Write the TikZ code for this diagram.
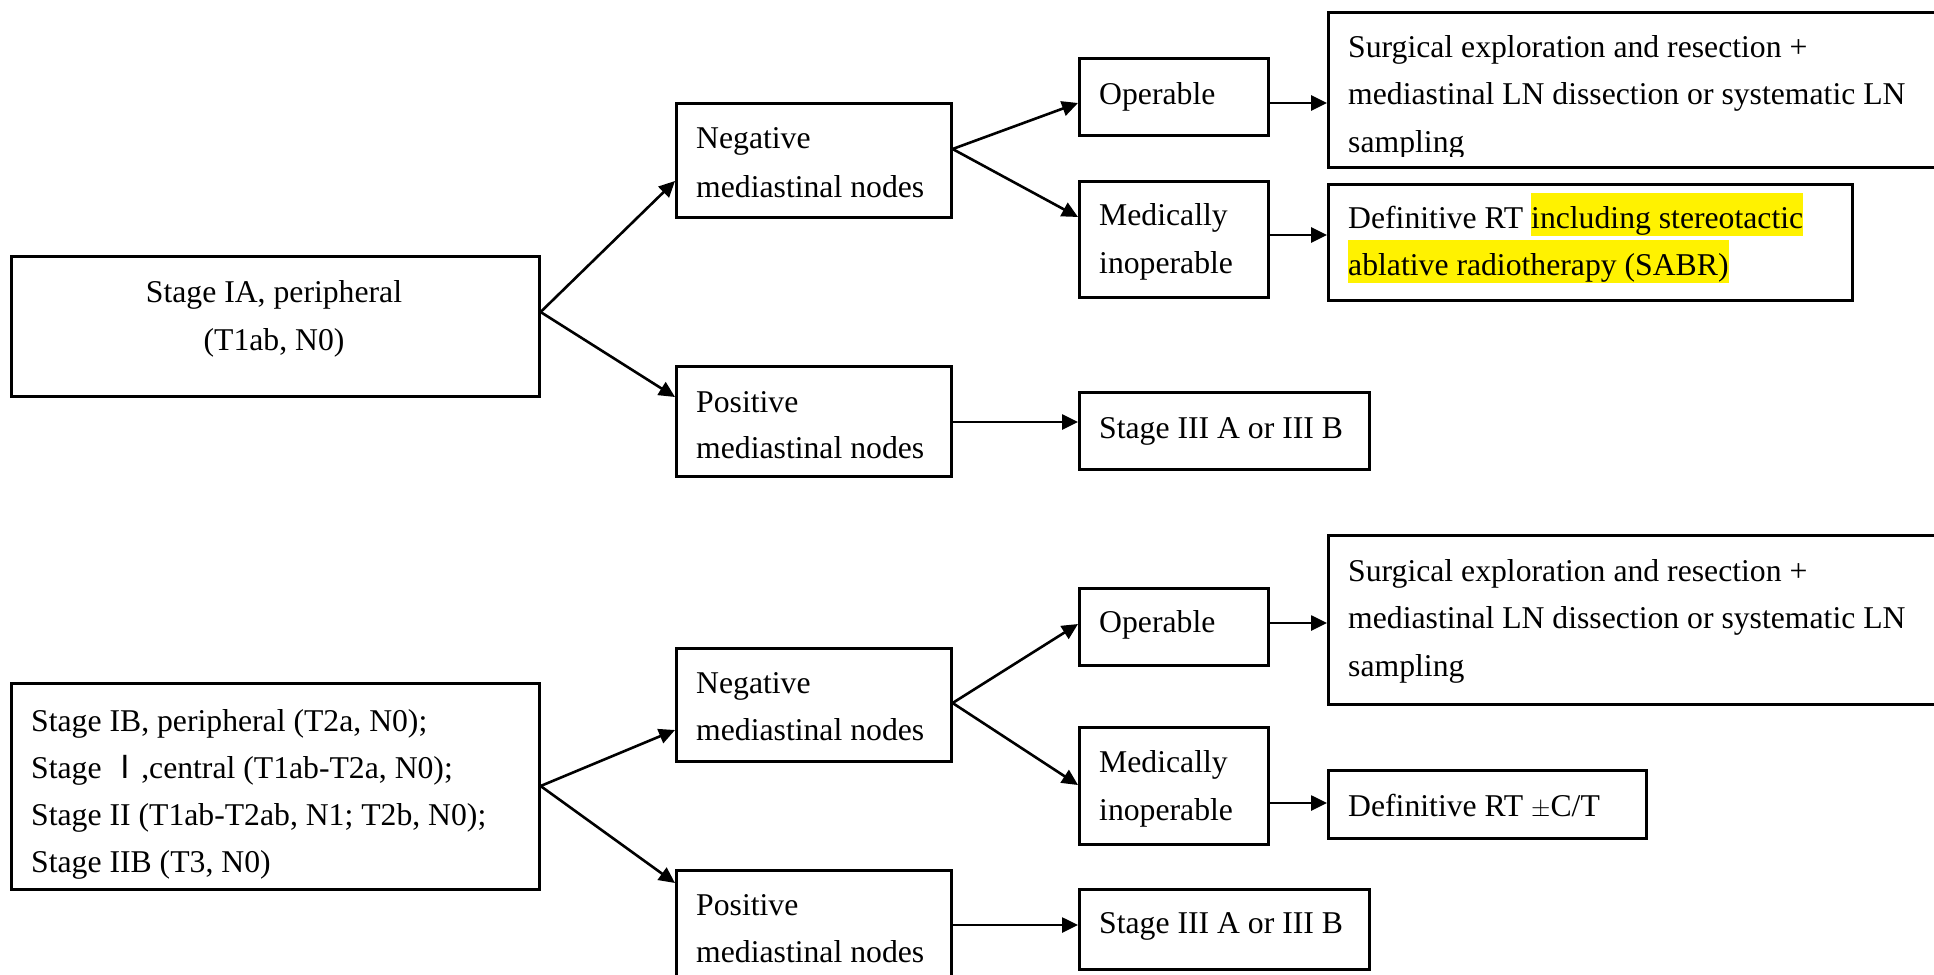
\documentclass[tikz,border=0pt]{standalone}
\usepackage{fontspec}
\setmainfont{Liberation Serif}
\newfontfamily\cjk{Noto Sans CJK SC}
\usetikzlibrary{arrows.meta,calc}
\newcommand\hlite[1]{{\setlength{\fboxsep}{0pt}\colorbox{yellow}{\rule[-8pt]{0pt}{43pt}#1}}}
\begin{document}
\begin{tikzpicture}[x=1pt,y=-1pt,
  box/.style={draw,line width=2.6pt,rectangle,inner sep=0pt,anchor=north west},
  txt/.style={anchor=base west,inner sep=0pt,font=\fontsize{31.7}{47.5}\selectfont},
  ctxt/.style={anchor=base,inner sep=0pt,font=\fontsize{31.7}{47.5}\selectfont},
  arr/.style={line width=2.6pt,-{Triangle[length=16pt,width=15pt]}}]
\useasboundingbox (0,0) rectangle (1934,974);
% ---------- top boxes ----------
\node[box,minimum width=528,minimum height=140] (ia) at (10,255) {};
\node[box,minimum width=275,minimum height=114] (neg1) at (675,102) {};
\node[box,minimum width=275,minimum height=110] (pos1) at (675,365) {};
\node[box,minimum width=189,minimum height=77] (op1) at (1078,57) {};
\node[box,minimum width=189,minimum height=116] (med1) at (1078,180) {};
\node[box,minimum width=290,minimum height=77] (s3a) at (1078,391) {};
\node[box,minimum width=640,minimum height=155] (surg1) at (1327,11) {};
\node[box,minimum width=524,minimum height=116] (def1) at (1327,183) {};
% ---------- bottom boxes ----------
\node[box,minimum width=528,minimum height=206] (ib) at (10,682) {};
\node[box,minimum width=275,minimum height=113] (neg2) at (675,647) {};
\node[box,minimum width=275,minimum height=130] (pos2) at (675,869) {};
\node[box,minimum width=189,minimum height=77] (op2) at (1078,587) {};
\node[box,minimum width=189,minimum height=117] (med2) at (1078,726) {};
\node[box,minimum width=290,minimum height=80] (s3b) at (1078,888) {};
\node[box,minimum width=640,minimum height=169] (surg2) at (1327,534) {};
\node[box,minimum width=318,minimum height=68] (def2) at (1327,769) {};
% ---------- texts ----------
\node[ctxt] (iaA) at (274,302) {Stage IA, peripheral};
\node[ctxt] (iaB) at (274,350) {(T1ab, N0)};
\node[txt] (neg1A) at (696,148) {Negative};
\node[txt] (neg1B) at (696,197) {mediastinal nodes};
\node[txt] (pos1A) at (696,412) {Positive};
\node[txt] (pos1B) at (696,458) {mediastinal nodes};
\node[txt] (op1A) at (1099,104) {Operable};
\node[txt] (med1A) at (1099,225) {Medically};
\node[txt] (med1B) at (1099,273) {inoperable};
\node[txt] (s3aA) at (1099,438) {Stage III A or III B};
\begin{scope}
\clip (1320,0) rectangle (1934,156);
\node[txt] (surg1A) at (1348,57) {Surgical exploration and resection +};
\node[txt] (surg1B) at (1348,104) {mediastinal LN dissection or systematic LN};
\node[txt] (surg1C) at (1348,152) {sampling};
\end{scope}
\node[txt] (def1A) at (1348,228) {Definitive RT \hlite{including stereotactic}};
\node[txt] (def1B) at (1348,275) {\hlite{ablative radiotherapy (SABR)}};
\node[txt] (ibA) at (31,731) {Stage IB, peripheral (T2a, N0);};
\node[txt] (ibB) at (31,778) {Stage {\cjk Ⅰ},central (T1ab-T2a, N0);};
\node[txt] (ibC) at (31,825) {Stage II (T1ab-T2ab, N1; T2b, N0);};
\node[txt] (ibD) at (31,872) {Stage IIB (T3, N0)};
\node[txt] (neg2A) at (696,693) {Negative};
\node[txt] (neg2B) at (696,740) {mediastinal nodes};
\node[txt] (pos2A) at (696,915) {Positive};
\node[txt] (pos2B) at (696,962) {mediastinal nodes};
\node[txt] (op2A) at (1099,632) {Operable};
\node[txt] (med2A) at (1099,772) {Medically};
\node[txt] (med2B) at (1099,820) {inoperable};
\node[txt] (s3bA) at (1099,933) {Stage III A or III B};
\node[txt] (surg2A) at (1348,581) {Surgical exploration and resection +};
\node[txt] (surg2B) at (1348,628) {mediastinal LN dissection or systematic LN};
\node[txt] (surg2C) at (1348,676) {sampling};
\node[txt] (def2A) at (1348,816) {Definitive RT $\pm$C/T};
% ---------- arrows top ----------
\draw[arr] ($(ia.north east)+(0,57)$) -- ($(neg1.north west)+(0,79)$);
\draw[arr] ($(ia.north east)+(0,57)$) -- ($(pos1.north west)+(0,32)$);
\draw[arr] ($(neg1.north east)+(0,47)$) -- ($(op1.north west)+(0,46)$);
\draw[arr] ($(neg1.north east)+(0,47)$) -- ($(med1.north west)+(0,37)$);
\draw[arr] ($(op1.north east)+(0,46)$) -- ($(surg1.north west)+(0,92)$);
\draw[arr] ($(med1.north east)+(0,55)$) -- ($(def1.north west)+(0,52)$);
\draw[arr] ($(pos1.north east)+(0,57)$) -- ($(s3a.north west)+(0,31)$);
% ---------- arrows bottom ----------
\draw[arr] ($(ib.north east)+(0,104)$) -- ($(neg2.north west)+(0,83)$);
\draw[arr] ($(ib.north east)+(0,104)$) -- ($(pos2.north west)+(0,14)$);
\draw[arr] ($(neg2.north east)+(0,56)$) -- ($(op2.north west)+(0,37)$);
\draw[arr] ($(neg2.north east)+(0,56)$) -- ($(med2.north west)+(0,59)$);
\draw[arr] ($(op2.north east)+(0,36)$) -- ($(surg2.north west)+(0,89)$);
\draw[arr] ($(med2.north east)+(0,77)$) -- ($(def2.north west)+(0,34)$);
\draw[arr] ($(pos2.north east)+(0,56)$) -- ($(s3b.north west)+(0,37)$);
\end{tikzpicture}
\end{document}
